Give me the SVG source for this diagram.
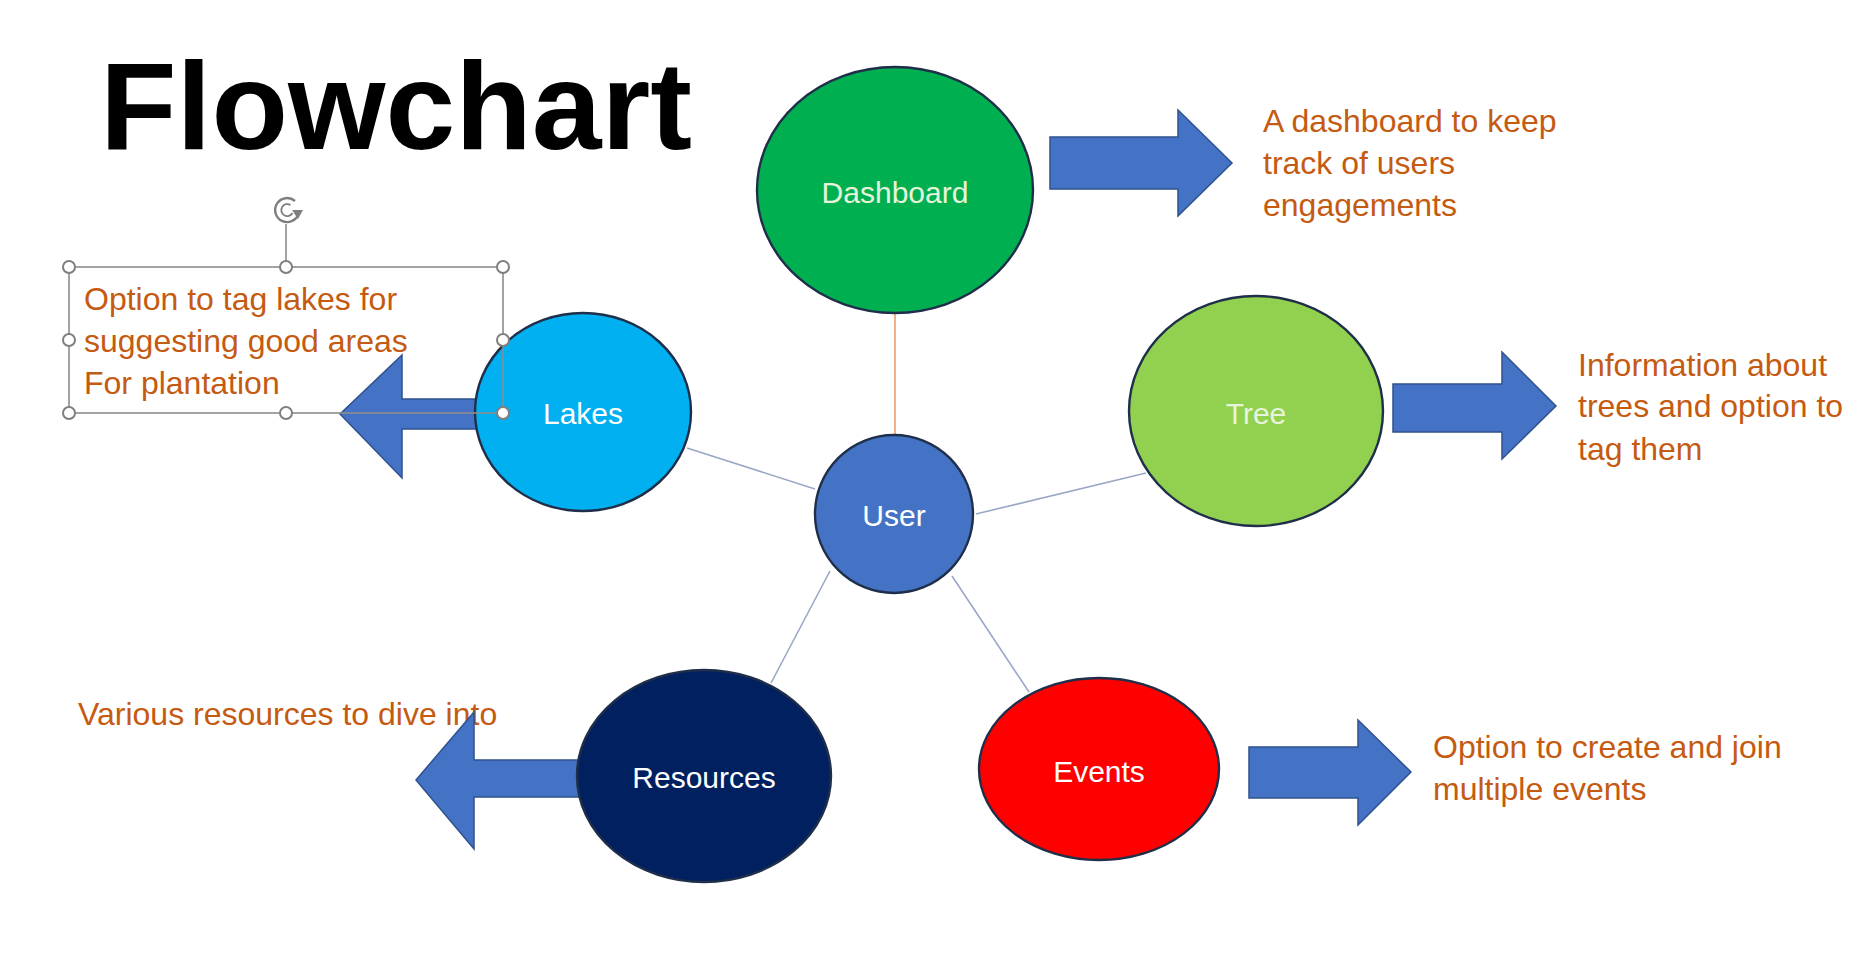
<svg xmlns="http://www.w3.org/2000/svg" width="1854" height="976" viewBox="0 0 1854 976">
<style>
.title{font-family:"Liberation Sans",Arial,sans-serif;font-weight:bold;font-size:124px;fill:#000}
.lbl{font-family:"Liberation Sans",Arial,sans-serif;font-size:30px;fill:#fff;text-anchor:middle}
.lbl2{font-family:"Liberation Sans",Arial,sans-serif;font-size:30px;fill:#e6f4dc;text-anchor:middle}
.desc{font-family:"Liberation Sans",Arial,sans-serif;font-size:32px;fill:#c55a11}
.node{stroke:#1f2f4a;stroke-width:2.4}
.arrow{fill:#4472c4;stroke:#2f528f;stroke-width:1.5;stroke-linejoin:miter}
.conn{stroke:#9aa8c6;stroke-width:1.6;fill:none}
.sel{fill:none;stroke:#8c8c8c;stroke-width:1.6}
.handle{fill:#fff;stroke:#7f7f7f;stroke-width:2}
</style>
<rect width="1854" height="976" fill="#fff"/>
<text class="title" x="100" y="149" textLength="592" lengthAdjust="spacingAndGlyphs">Flowchart</text>

<g id="connectors">
<line x1="895" y1="313" x2="895" y2="436" stroke="#f4b183" stroke-width="2"/>
<line class="conn" x1="687" y1="448" x2="815" y2="489"/>
<line class="conn" x1="976" y1="514" x2="1146" y2="473"/>
<line class="conn" x1="830" y1="571" x2="771" y2="683"/>
<line class="conn" x1="952" y1="576" x2="1029" y2="692"/>
</g>

<g id="dashboard">
<ellipse class="node" cx="895" cy="190" rx="138" ry="123" fill="#00b050"/>
<text class="lbl2" x="895" y="203">Dashboard</text>
</g>
<g id="dashboard-desc">
<polygon class="arrow" points="1050,137 1178,137 1178,110 1232,163 1178,216 1178,189 1050,189"/>
<text class="desc" x="1263" y="132">A dashboard to keep</text>
<text class="desc" x="1263" y="174">track of users</text>
<text class="desc" x="1263" y="216">engagements</text>
</g>

<g id="lakes-arrow">
<polygon class="arrow" points="500,399 402,399 402,355 340,414 402,478 402,429 500,429"/>
</g>
<g id="lakes">
<ellipse class="node" cx="583" cy="412" rx="108" ry="99" fill="#00b0f0"/>
<text class="lbl" x="583" y="424">Lakes</text>
</g>
<g id="lakes-desc">
<text class="desc" x="84" y="310">Option to tag lakes for</text>
<text class="desc" x="84" y="352">suggesting good areas</text>
<text class="desc" x="84" y="394">For plantation</text>
<rect class="sel" x="69" y="267" width="434" height="146"/>
<line class="sel" x1="286" y1="224" x2="286" y2="267"/>
<path d="M295 201 A12 12 0 1 0 298.5 214" fill="none" stroke="#7f7f7f" stroke-width="2.4"/>
<path d="M290.5 205 A6 6 0 1 0 292.5 213" fill="none" stroke="#7f7f7f" stroke-width="1.8"/>
<polygon points="292,210 303,210 298,219" fill="#7f7f7f"/>
<circle class="handle" cx="69" cy="267" r="6"/>
<circle class="handle" cx="286" cy="267" r="6"/>
<circle class="handle" cx="503" cy="267" r="6"/>
<circle class="handle" cx="69" cy="340" r="6"/>
<circle class="handle" cx="503" cy="340" r="6"/>
<circle class="handle" cx="69" cy="413" r="6"/>
<circle class="handle" cx="286" cy="413" r="6"/>
<circle class="handle" cx="503" cy="413" r="6"/>
</g>

<g id="user">
<circle class="node" cx="894" cy="514" r="79" fill="#4472c4"/>
<text class="lbl" x="894" y="526">User</text>
</g>

<g id="tree">
<ellipse class="node" cx="1256" cy="411" rx="127" ry="115" fill="#92d050"/>
<text class="lbl2" x="1256" y="424">Tree</text>
</g>
<g id="tree-desc">
<polygon class="arrow" points="1393,384 1502,384 1502,352 1556,406 1502,459 1502,432 1393,432"/>
<text class="desc" x="1578" y="376">Information about</text>
<text class="desc" x="1578" y="417">trees and option to</text>
<text class="desc" x="1578" y="460">tag them</text>
</g>

<g id="resources-desc">
<text class="desc" x="78" y="725">Various resources to dive into</text>
<polygon class="arrow" points="600,760 474,760 474,712 416,780 474,849 474,797 600,797"/>
</g>
<g id="resources">
<ellipse class="node" cx="704" cy="776" rx="127" ry="106" fill="#002060"/>
<text class="lbl" x="704" y="788">Resources</text>
</g>

<g id="events">
<ellipse class="node" cx="1099" cy="769" rx="120" ry="91" fill="#ff0000"/>
<text class="lbl" x="1099" y="782">Events</text>
</g>
<g id="events-desc">
<polygon class="arrow" points="1249,747 1358,747 1358,720 1411,772 1358,825 1358,798 1249,798"/>
<text class="desc" x="1433" y="758">Option to create and join</text>
<text class="desc" x="1433" y="800">multiple events</text>
</g>
</svg>
